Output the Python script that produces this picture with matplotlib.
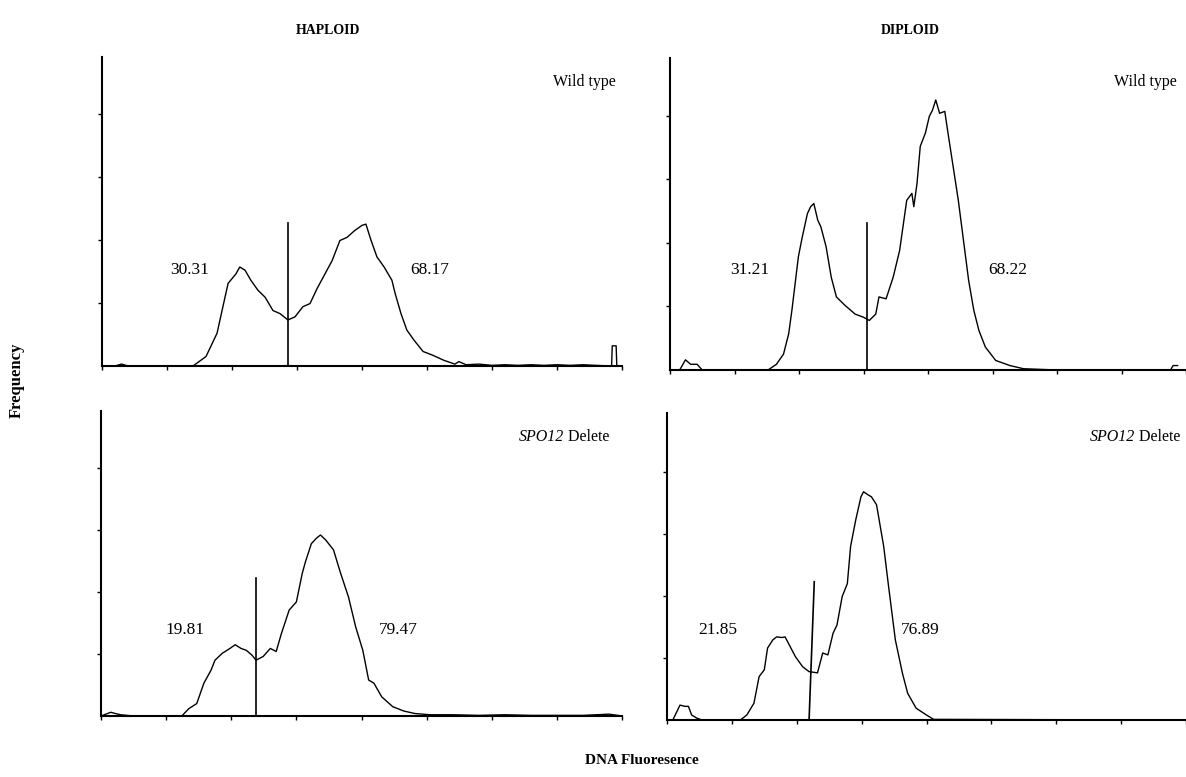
import numpy as np
import matplotlib
matplotlib.use('Agg')
from matplotlib import pyplot as plt

plt.rcParams['font.family'] = ['Liberation Serif', 'DejaVu Serif']

# DNA content histograms, x/y in tick units
hap_wt_x = [0, 0.2, 0.3, 0.4, 1.4, 1.6, 1.77, 1.86, 1.94, 2.06, 2.12, 2.2, 2.29, 2.4, 2.51, 2.63, 2.74, 2.86,
            2.97, 3.09, 3.2, 3.31, 3.43, 3.54, 3.66, 3.77, 3.89, 4.0, 4.06, 4.14, 4.23, 4.34, 4.46, 4.51, 4.6,
            4.69, 4.8, 4.94, 5.09, 5.26, 5.43, 5.49, 5.6, 5.8, 6.0, 6.2, 6.4, 6.6, 6.8, 7.0, 7.2, 7.4, 7.6, 7.84,
            7.85, 7.91, 7.92, 8.0]
hap_wt_y = [0, 0, 0.03, 0, 0, 0.15, 0.52, 0.94, 1.31, 1.46, 1.57, 1.52, 1.36, 1.2, 1.09, 0.88, 0.83, 0.73,
            0.78, 0.94, 0.99, 1.23, 1.46, 1.67, 1.99, 2.04, 2.15, 2.23, 2.25, 1.99, 1.73, 1.57, 1.36, 1.15, 0.83,
            0.57, 0.41, 0.23, 0.17, 0.09, 0.03, 0.07, 0.02, 0.03, 0.01, 0.02, 0.01, 0.02, 0.01, 0.02, 0.01, 0.02, 0.01, 0,
            0.32, 0.32, 0, 0]

dip_wt_x = [0, 0.15, 0.24, 0.32, 0.42, 0.5, 1.52, 1.65, 1.76, 1.84, 1.89, 1.94, 1.99, 2.05, 2.13, 2.18, 2.23,
            2.29, 2.34, 2.42, 2.5, 2.58, 2.71, 2.87, 3.0, 3.09, 3.19, 3.24, 3.35, 3.46, 3.56, 3.67, 3.75, 3.78,
            3.83, 3.88, 3.96, 4.02, 4.07, 4.12, 4.18, 4.26, 4.31, 4.39, 4.47, 4.55, 4.63, 4.71, 4.79, 4.89, 5.05,
            5.27, 5.48, 6.0, 7.0, 7.76, 7.8, 7.87]
dip_wt_y = [0, 0, 0.16, 0.09, 0.09, 0, 0, 0.09, 0.25, 0.57, 0.94, 1.36, 1.78, 2.09, 2.46, 2.57, 2.62,
            2.36, 2.25, 1.94, 1.46, 1.15, 1.02, 0.88, 0.83, 0.78, 0.88, 1.15, 1.12, 1.46, 1.88, 2.67, 2.78, 2.57,
            2.94, 3.52, 3.73, 3.99, 4.09, 4.25, 4.04, 4.07, 3.73, 3.2, 2.67, 2.04, 1.41, 0.94, 0.62, 0.36, 0.15,
            0.07, 0.02, 0, 0, 0, 0.07, 0.07]

hap_del_x = [0, 0.15, 0.22, 0.3, 0.5, 1.24, 1.35, 1.47, 1.58, 1.69, 1.75, 1.86, 1.98, 2.06, 2.15, 2.23, 2.32,
             2.38, 2.49, 2.6, 2.69, 2.77, 2.89, 3.0, 3.09, 3.14, 3.23, 3.31, 3.37, 3.45, 3.57, 3.68, 3.8, 3.91,
             4.02, 4.11, 4.19, 4.31, 4.48, 4.65, 4.82, 5.05, 5.4, 5.8, 6.2, 6.6, 7.0, 7.4, 7.8, 8.0]
hap_del_y = [0, 0.06, 0.04, 0.02, 0, 0, 0.12, 0.2, 0.53, 0.74, 0.9, 1.01, 1.09, 1.15, 1.09, 1.06, 0.98,
             0.9, 0.96, 1.09, 1.04, 1.33, 1.71, 1.84, 2.3, 2.49, 2.78, 2.87, 2.92, 2.84, 2.68, 2.3, 1.92, 1.44,
             1.06, 0.58, 0.53, 0.31, 0.15, 0.08, 0.04, 0.02, 0.02, 0.01, 0.02, 0.01, 0.01, 0.01, 0.03, 0]

dip_del_x = [0, 0.09, 0.2, 0.28, 0.33, 0.38, 0.46, 0.54, 1.13, 1.23, 1.34, 1.42, 1.5, 1.55, 1.63, 1.69, 1.77,
             1.82, 1.9, 1.98, 2.09, 2.19, 2.32, 2.4, 2.48, 2.56, 2.62, 2.7, 2.78, 2.83, 2.91, 2.99, 3.03, 3.1,
             3.15, 3.2, 3.23, 3.34, 3.41, 3.52, 3.63, 3.71, 3.84, 4.0, 4.11, 7.9]
dip_del_y = [0, 0, 0.24, 0.22, 0.22, 0.08, 0.03, 0, 0, 0.08, 0.27, 0.7, 0.81, 1.16, 1.29, 1.34, 1.33,
             1.34, 1.18, 1.02, 0.86, 0.78, 0.76, 1.08, 1.05, 1.4, 1.53, 1.99, 2.2, 2.8, 3.23, 3.6, 3.68, 3.63,
             3.6, 3.52, 3.47, 2.8, 2.2, 1.29, 0.75, 0.43, 0.19, 0.08, 0.01, 0]

# gate markers (x bottom, x top, height)
gates = [(2.86, 2.86, 2.26), (3.06, 3.06, 2.31), (2.38, 2.38, 2.22), (2.19, 2.27, 2.23)]
left_pct = ['30.31', '31.21', '19.81', '21.85']
right_pct = ['68.17', '68.22', '79.47', '76.89']
# strain label: (italic gene part, plain part)
strains = [('', 'Wild type'), ('', 'Wild type'), ('SPO12', ' Delete'), ('SPO12', ' Delete')]

W, H = 1186, 777
fig = plt.figure(figsize=(W / 100, H / 100), dpi=100)

# axes boxes in pixels: left, right, bottom, top
boxes = [(102, 622, 366, 57), (670, 1186, 370, 58), (101, 622, 716, 411), (667, 1186, 720, 413)]
xlims = [8.0, 7.87, 8.0, 7.9]
ylims = [4.9, 4.91, 4.92, 4.95]
curves = [(hap_wt_x, hap_wt_y), (dip_wt_x, dip_wt_y), (hap_del_x, hap_del_y), (dip_del_x, dip_del_y)]
# label anchors in pixels
left_px = [(190, 270), (750, 270), (185, 630), (718, 630)]
right_px = [(430, 270), (1008, 270), (398, 630), (920, 630)]
strain_px = [(616, 82), (1177, 82), (609, 437), (1180, 437)]

fig.canvas.draw()
renderer = fig.canvas.get_renderer()

for i in range(4):
    l, r, b, t = boxes[i]
    ax = fig.add_axes([l / W, 1 - b / H, (r - l) / W, (b - t) / H])
    x, y = curves[i]
    ax.plot(x, y, color='black', lw=1.0)
    g = gates[i]
    ax.plot([g[0], g[1]], [0, g[2]], color='black', lw=1.2)
    ax.set_xlim(0, xlims[i])
    ax.set_ylim(0, ylims[i])
    ax.spines['top'].set_visible(False)
    ax.spines['right'].set_visible(False)
    ax.spines['left'].set_linewidth(1.5)
    ax.spines['bottom'].set_linewidth(1.5)
    ax.set_xticks(np.arange(0, 9))
    ax.set_yticks([1, 2, 3, 4])
    ax.tick_params(length=3, width=1, labelbottom=False, labelleft=False)
    fig.text(left_px[i][0] / W, 1 - left_px[i][1] / H, left_pct[i], fontsize=12.5, ha='center', va='center')
    fig.text(right_px[i][0] / W, 1 - right_px[i][1] / H, right_pct[i], fontsize=12.5, ha='center', va='center')
    gene, rest = strains[i]
    tx = fig.text(strain_px[i][0] / W, 1 - strain_px[i][1] / H, rest, fontsize=11.5, ha='right', va='center')
    if gene:
        bb = tx.get_window_extent(renderer=renderer)
        fig.text(bb.x0 / W, 1 - strain_px[i][1] / H, gene, fontsize=11.5, style='italic', ha='right', va='center')

fig.text(328 / W, 1 - 30 / H, 'HAPLOID', fontsize=10, fontweight='bold', ha='center', va='center')
fig.text(910 / W, 1 - 30 / H, 'DIPLOID', fontsize=10, fontweight='bold', ha='center', va='center')
fig.text(17 / W, 1 - 380 / H, 'Frequency', fontsize=12, fontweight='bold', rotation=90, ha='center', va='center')
fig.text(642 / W, 1 - 760 / H, 'DNA Fluoresence', fontsize=11, fontweight='bold', ha='center', va='center')

fig.savefig('out.png', dpi=100)
